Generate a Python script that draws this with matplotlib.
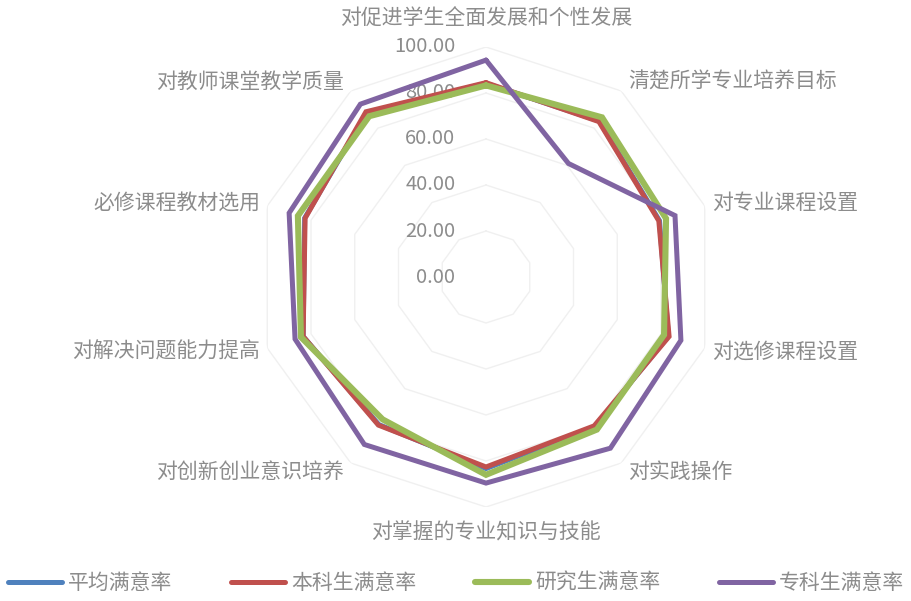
import numpy as np
import matplotlib
matplotlib.use('Agg')
import matplotlib.pyplot as plt

plt.rcParams['font.family'] = ['Noto Sans CJK SC', 'DejaVu Sans']
plt.rcParams['font.weight'] = 'light'

categories = ['对促进学生全面发展和个性发展', '清楚所学专业培养目标', '对专业课程设置',
              '对选修课程设置', '对实践操作', '对掌握的专业知识与技能',
              '对创新创业意识培养', '对解决问题能力提高', '必修课程教材选用',
              '对教师课堂教学质量']

avg_rate = [84.2, 83.8, 79.3, 83.4, 80.4, 83.3, 79.3, 83.6, 82.9, 88.3]
undergrad_rate = [84.5, 83.5, 79.0, 83.7, 80.0, 82.6, 79.6, 83.6, 82.7, 88.8]
grad_rate = [83.3, 85.8, 82.3, 81.4, 82.0, 86.0, 76.5, 84.6, 86.0, 86.4]
college_rate = [94.3, 61.0, 86.4, 89.1, 92.0, 89.6, 90.0, 87.3, 90.0, 92.9]

series_names = ['平均满意率', '本科生满意率', '研究生满意率', '专科生满意率']
ticks = [0, 20, 40, 60, 80, 100]

n = len(categories)
angles = np.linspace(0, 2 * np.pi, n, endpoint=False)
closed = np.append(angles, angles[0])

gray = '#8c8c8c'

fig = plt.figure(figsize=(9.12, 6.01), dpi=100)
ax = fig.add_axes([0.2807, 0.1564, 0.5044, 0.7654], projection='polar')
ax.set_theta_zero_location('N')
ax.set_theta_direction(-1)
ax.set_ylim(0, 100)
ax.grid(False)
ax.spines['polar'].set_visible(False)
ax.set_xticks([])
ax.set_yticks([])
ax.patch.set_alpha(0)

# decagon gridlines
for t in ticks[1:]:
    ax.plot(closed, [t] * (n + 1), color='#f0f0f0', lw=1.0, zorder=1)

# scale labels along the vertical axis
for t in ticks:
    ax.annotate(f'{t:.2f}', xy=(0, t), xytext=(-22, 0), textcoords='offset points',
                ha='right', va='center', fontsize=14.5, color=gray)

colors = ['#4f81bd', '#c0504d', '#9bbb59', '#8064a2']
widths = [3.6, 3.6, 4.4, 3.6]
data = [avg_rate, undergrad_rate, grad_rate, college_rate]
for vals, c, w, name in zip(data, colors, widths, series_names):
    v = np.append(vals, vals[0])
    ax.plot(closed, v, color=c, lw=w, solid_joinstyle='miter',
            solid_capstyle='round', label=name, zorder=3)

# category labels around the outer ring
for a, lab in zip(angles, categories):
    s, c = np.sin(a), np.cos(a)
    if abs(s) < 1e-6:
        ha = 'center'
        dx = 0
        dy = 21 if c > 0 else -18
    else:
        ha = 'left' if s > 0 else 'right'
        dx = 5 if s > 0 else -5
        dy = 8 * c
    ax.annotate(lab, xy=(a, 100), xytext=(dx, dy), textcoords='offset points',
                ha=ha, va='center', fontsize=15, color=gray, annotation_clip=False)

fig.legend(loc='center', bbox_to_anchor=(0.5, 0.03), ncol=4, frameon=False,
           fontsize=15, handlelength=2.6, handletextpad=0.3, columnspacing=2.8,
           labelcolor=gray)

fig.savefig('out.png', dpi=100)
